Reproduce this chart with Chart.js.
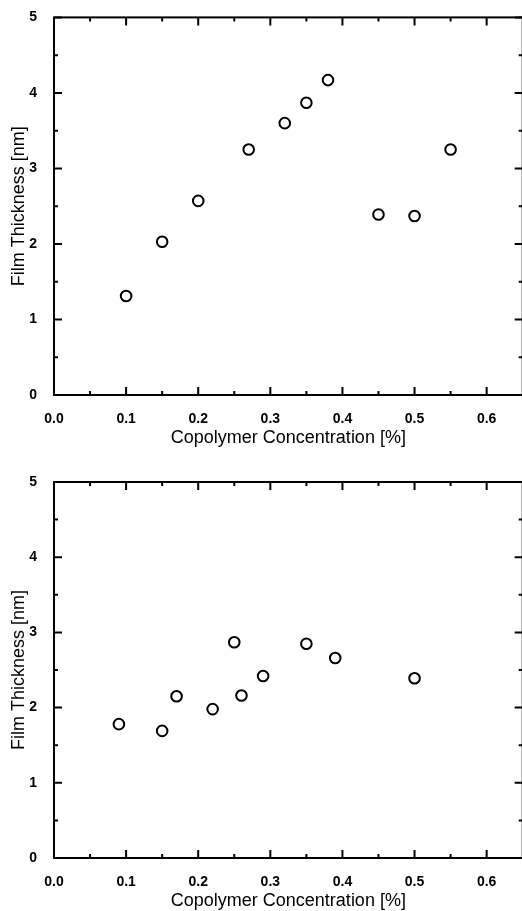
<!DOCTYPE html>
<html lang="en">
<head>
  <meta charset="UTF-8" />
  <title>Film Thickness vs Copolymer Concentration</title>
  <script src="https://cdn.jsdelivr.net/npm/chart.js"></script>
  <style>
    * {
      margin: 0;
      padding: 0;
      box-sizing: border-box;
    }

    html, body {
      width: 522px;
      height: 911px;
      overflow: hidden;
      background-color: #fff;
    }

    canvas {
      display: block;
    }
  </style>
</head>
<body>

  <canvas id="topChart" width="530" height="450"></canvas>
  <canvas id="bottomChart" width="530" height="463"></canvas>

  <script>
    // tick values
    const xTicks = [0, 0.1, 0.2, 0.3, 0.4, 0.5, 0.6];
    const xMinorTicks = [0.05, 0.15, 0.25, 0.35, 0.45, 0.55];
    const yTicks = [0, 1, 2, 3, 4, 5];
    const yMinorTicks = [0.5, 1.5, 2.5, 3.5, 4.5];

    // upper panel
    const topConc = [0.10, 0.15, 0.20, 0.27, 0.32, 0.35, 0.38, 0.45, 0.50, 0.55];
    const topThickness = [1.31, 2.03, 2.57, 3.25, 3.60, 3.87, 4.17, 2.39, 2.37, 3.25];

    // lower panel
    const bottomConc = [0.09, 0.15, 0.17, 0.22, 0.25, 0.26, 0.29, 0.35, 0.39, 0.50];
    const bottomThickness = [1.78, 1.69, 2.15, 1.98, 2.87, 2.16, 2.42, 2.85, 2.66, 2.39];

    const xTitle = 'Copolymer Concentration [%]';
    const yTitle = 'Film Thickness [nm]';

    // plot frame sits slightly past the right edge of the page
    const plotRight = 524;

    // draws the frame and the inward ticks on all four sides
    const frameTicks = {
      id: 'frameTicks',
      afterDraw(chart) {
        const ctx = chart.ctx;
        const area = chart.chartArea;
        const xs = chart.scales.x;
        const ys = chart.scales.y;

        ctx.save();
        ctx.strokeStyle = '#000';
        ctx.lineWidth = 2;
        ctx.strokeRect(area.left, area.top, area.right - area.left, area.bottom - area.top);

        function xTick(v, len) {
          const px = xs.getPixelForValue(v);
          ctx.beginPath();
          ctx.moveTo(px, area.bottom);
          ctx.lineTo(px, area.bottom - len);
          ctx.moveTo(px, area.top);
          ctx.lineTo(px, area.top + len);
          ctx.stroke();
        }

        function yTick(v, len) {
          const py = ys.getPixelForValue(v);
          ctx.beginPath();
          ctx.moveTo(area.left, py);
          ctx.lineTo(area.left + len, py);
          ctx.moveTo(area.right, py);
          ctx.lineTo(area.right - len, py);
          ctx.stroke();
        }

        xTicks.forEach(v => xTick(v, 8));
        xMinorTicks.forEach(v => xTick(v, 4));
        yTicks.forEach(v => yTick(v, 8));
        yMinorTicks.forEach(v => yTick(v, 4));
        ctx.restore();
      }
    };

    function makeChart(id, conc, thickness, padTop) {
      const chart = new Chart(document.getElementById(id).getContext('2d'), {
        type: 'scatter',
        data: {
          datasets: [{
            data: conc.map((c, i) => ({ x: c, y: thickness[i] })),
            pointRadius: 5.3,
            pointHoverRadius: 5.3,
            pointBorderWidth: 2,
            pointBorderColor: '#000',
            pointBackgroundColor: '#fff'
          }]
        },
        options: {
          responsive: false,
          animation: false,
          layout: {
            padding: { top: padTop, right: 6, left: 0, bottom: 0 }
          },
          plugins: {
            legend: { display: false },
            tooltip: { enabled: false }
          },
          scales: {
            x: {
              type: 'linear',
              min: 0,
              max: 0.65,
              afterBuildTicks(scale) {
                scale.ticks = xTicks.map(v => ({ value: v }));
              },
              afterFit(scale) {
                scale.height = 55;
              },
              grid: { display: false },
              border: { display: false },
              ticks: {
                padding: 8,
                color: '#000',
                font: { family: 'Liberation Sans, Arial, sans-serif', size: 14, weight: 'bold' },
                callback: v => v.toFixed(1)
              },
              title: {
                display: true,
                text: xTitle,
                color: '#000',
                padding: { top: 0, bottom: 1 },
                font: { family: 'Liberation Sans, Arial, sans-serif', size: 18 }
              }
            },
            y: {
              type: 'linear',
              min: 0,
              max: 5,
              afterBuildTicks(scale) {
                scale.ticks = yTicks.map(v => ({ value: v }));
              },
              afterFit(scale) {
                scale.width = 54;
              },
              grid: { display: false },
              border: { display: false },
              ticks: {
                padding: 9,
                color: '#000',
                font: { family: 'Liberation Sans, Arial, sans-serif', size: 14, weight: 'bold' }
              },
              title: {
                display: true,
                text: yTitle,
                color: '#000',
                padding: { top: 8, bottom: 0 },
                font: { family: 'Liberation Sans, Arial, sans-serif', size: 18 }
              }
            }
          }
        },
        plugins: [frameTicks]
      });

      // nudge the right padding so the frame lands where the original has it
      const diff = chart.chartArea.right - plotRight;
      if (diff !== 0) {
        chart.options.layout.padding.right += diff;
        chart.update();
      }
      return chart;
    }

    makeChart('topChart', topConc, topThickness, 17);
    makeChart('bottomChart', bottomConc, bottomThickness, 32);
  </script>
</body>
</html>
